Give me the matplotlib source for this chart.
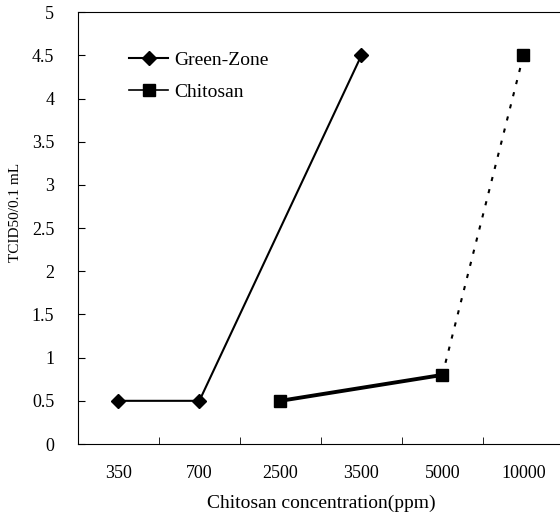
import matplotlib.pyplot as plt

# data
categorias = ["350", "700", "2500", "3500", "5000", "10000"]
green_x = ["350", "700", "3500"]
green_y = [0.5, 0.5, 4.5]
chit_x = ["2500", "5000", "10000"]
chit_y = [0.5, 0.8, 4.5]

plt.rcParams['font.family'] = 'Liberation Serif'

fig = plt.figure(figsize=(5.6, 5.19), dpi=100)
ax = fig.add_axes([0.139, 0.1445, 0.868, 0.832])

pos = {c: i for i, c in enumerate(categorias)}
gx = [pos[c] for c in green_x]
cx = [pos[c] for c in chit_x]

ax.plot(gx, green_y, color='black', lw=1.5, marker='D', ms=7,
        label="Green-Zone")
# chitosan: solid part then dotted part
ax.plot(cx[:2], chit_y[:2], color='black', lw=2.8, zorder=2)
ax.plot(cx[1:], chit_y[1:], color='black', lw=1.5, ls=(0, (2, 4)), zorder=2)
ax.plot(cx, chit_y, ls='none', marker='s', ms=8.5, color='black', zorder=3)
# legend proxy
ax.plot([], [], color='black', lw=1.2, marker='s', ms=8.5, label="Chitosan")

ax.set_xlim(-0.5, 5.5)
ax.set_ylim(0, 5)
ax.set_xticks(range(len(categorias)))
ax.set_xticklabels(categorias)
ax.set_xticks([i + 0.5 for i in range(len(categorias))], minor=True)
ax.tick_params(axis='x', which='major', length=0, pad=15, labelsize=13)
ax.tick_params(axis='x', which='minor', direction='in', length=5)
ax.set_yticks([0, 0.5, 1, 1.5, 2, 2.5, 3, 3.5, 4, 4.5, 5])
ax.set_yticklabels(["0", "0.5", "1", "1.5", "2", "2.5", "3", "3.5", "4", "4.5", "5"])
ax.tick_params(axis='y', direction='in', length=5, pad=17, labelsize=13)

ax.set_ylabel("TCID50/0.1 mL", fontsize=11)
ax.yaxis.set_label_coords(-0.115, 0.537)
ax.set_xlabel("Chitosan concentration(ppm)", fontsize=14, labelpad=9)

ax.legend(loc='upper left', bbox_to_anchor=(0.07, 0.95), frameon=False,
          fontsize=14, handlelength=2.0, labelspacing=0.75, handletextpad=0.3)

fig.savefig("out.png", dpi=100)
